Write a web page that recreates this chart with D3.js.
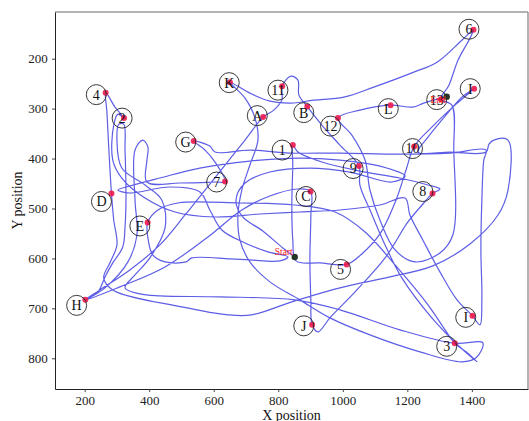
<!DOCTYPE html>
<html><head><meta charset="utf-8">
<script src="https://cdn.jsdelivr.net/npm/d3@7/dist/d3.min.js"></script>
<style>body{margin:0;background:#fff}svg{display:block}svg text{font-family:'Liberation Serif','Times New Roman',serif}</style>
</head><body><div id="chart"></div>
<script>
// Trajectory (X position, Y position) in data units
const pathX = [851,814,752,690,669,697,774,898,1022,1152,1193,1115,991,867,712,557,433,340,303,340,464,557,588,625,697,768,830,805,712,
650,532,514,449,411,396,395,427,489,681,851,976,1069,1162,1264,1317,1347,1382,1416,1369,1276,1183,1131,1087,1053,1050,991,935,890,864,861,839,812,811,786,753,697,635,573,511,433,340,247,202,309,449,582,687,774,861,900,901,898,901,905,923,960,1038,1131,1202,1251,1278,1301,1264,1177,1053,935,861,845,845,842,845,855,929,1012,1059,1115,1165,1196,1221,1276,1351,1407,1369,1317,1264,1233,1332,1444,1453,1468,1512,1512,1481,1394,1279,1146,991,842,718,644,501,287,259,278,300,290,283,275,269,265,294,322,303,290,287,315,387,480,604,743,867,991,1115,1193,1208,1248,1301,1354,1402,1425,1431,1428,1431,1437,1444,1332,1177,991,836,712,604,588,538,573,604,635,604,495,393,393,396,380,356,356,362,334,263,202,
241,263,287,318,325,328,325,321,306,300,315,387,439,449,402,356,325,371,
433,619,851,991,1177,1347,1434,1413,1369,1239,1084,960,867,774,712,681,675,687,712,737,728,697,650,712,774,839,910,1003,1096,1220,1292,1369,1405,1394,1357,1329,1304,1338,1344,1341,1301,1224,1162,1115,1084,1069,1028,985,1053,1148,1217,1251,1322];
const pathY = [597,579,545,517,483,449,427,419,427,447,435,415,403,399,405,419,439,455,463,469,457,467,503,543,569,587,597,605,603,
601,599,607,607,593,559,528,503,489,489,493,507,547,613,693,743,770,787,807,781,719,639,573,507,453,415,373,333,296,273,243,235,255,283,303,317,363,413,463,513,573,623,663,683,657,617,557,503,475,461,466,513,603,683,733,747,719,667,599,527,489,470,461,453,439,425,407,387,373,413,493,563,605,609,612,591,551,483,423,376,337,291,260,277,315,357,387,387,387,371,363,363,463,513,571,615,637,659,687,713,713,697,663,639,609,573,523,470,383,307,268,297,319,311,333,403,439,479,507,517,511,507,503,493,479,513,563,627,683,715,733,683,583,483,403,383,389,391,389,389,383,387,375,365,383,407,446,447,449,447,403,377,363,383,483,553,607,659,683,
667,637,609,577,537,483,383,331,331,363,419,453,483,539,599,633,659,671,
675,677,683,703,743,770,769,799,807,787,753,719,683,647,607,563,513,463,413,363,319,279,247,269,285,289,283,277,257,227,207,163,142,159,203,253,281,293,383,553,589,607,583,523,463,403,353,319,303,293,297,289,276];

// Labelled waypoints
const labels = ["4","2","K","A","G","7","D","6","11","B","12","L","13","I","1","10","9","C","8","E","H","5","J","I","3"];
const pointX = [265,322,650,753,538,635,283,1405,812,890,985,1148,1304,1407,845,1221,1050,900,1278,395,202,1012,905,1402,1347];
const pointY = [268,319,247,317,365,446,470,142,255,296,319,293,281,260,373,376,415,466,470,528,683,612,733,715,770];
const labelX = [236,316,648,735,513,609,252,1391,799,879,962,1141,1291,1395,812,1216,1032,886,1248,371,175,993,879,1381,1322];
const labelY = [272,319,248,314,367,447,486,141,263,308,335,300,282,260,383,380,420,476,466,535,694,622,735,718,776];

const startPt = [851,597];
const endPt = [1322,276];

const xTicks = [200,400,600,800,1000,1200,1400];
const yTicks = [200,300,400,500,600,700,800];
const xDomain = [108,1574];
const yDomain = [106.5,861.5];

const W=529,H=421;
const m={l:55,r:1,t:12,b:32};
const svg=d3.select("#chart").append("svg").attr("width",W).attr("height",H);
const x=d3.scaleLinear().domain(xDomain).range([m.l,W-m.r]);
const y=d3.scaleLinear().domain(yDomain).range([m.t,H-m.b]);
const font="'Liberation Serif','Times New Roman',serif";

// frame (top/right gray)
svg.append("line").attr("x1",m.l).attr("x2",W-m.r).attr("y1",m.t).attr("y2",m.t).attr("stroke","#9a9a9a").attr("stroke-width",1.5);
svg.append("line").attr("x1",W-m.r).attr("x2",W-m.r).attr("y1",m.t).attr("y2",H-m.b).attr("stroke","#9a9a9a").attr("stroke-width",1.5);

const xAxis=svg.append("g").attr("transform",`translate(0,${H-m.b})`)
  .call(d3.axisBottom(x).tickValues(xTicks).tickSize(3).tickSizeOuter(0).tickFormat(d3.format("d")));
const yAxis=svg.append("g").attr("transform",`translate(${m.l},0)`)
  .call(d3.axisLeft(y).tickValues(yTicks).tickSize(3).tickSizeOuter(0).tickFormat(d3.format("d")));
[xAxis,yAxis].forEach(g=>{
  g.attr("font-family",null);
  g.select(".domain").attr("stroke","#222").attr("stroke-width",1);
  g.selectAll(".tick line").attr("stroke","#444");
  g.selectAll("text").style("font-family",font).style("font-size","13px").attr("fill","#222");
});
xAxis.selectAll("text").attr("dy","0.78em");
yAxis.selectAll("text").attr("dx","-0.1em");

svg.append("text").attr("x",(m.l+W-m.r)/2).attr("y",420).attr("text-anchor","middle")
  .style("font-family",font).style("font-size","14px").attr("fill","#111").text("X position");
svg.append("text").attr("transform",`translate(22,${(m.t+H-m.b)/2}) rotate(-90)`).attr("text-anchor","middle")
  .style("font-family",font).style("font-size","14px").attr("fill","#111").text("Y position");

// trajectory
const n=Math.min(pathX.length,pathY.length);
const pts=d3.range(n).map(i=>[pathX[i],pathY[i]]);
const line=d3.line().x(d=>x(d[0])).y(d=>y(d[1])).curve(d3.curveCatmullRom.alpha(0.5));
svg.append("path").datum(pts).attr("d",line).attr("fill","none")
  .attr("stroke","#4b4be3").attr("stroke-width",1.2).attr("stroke-opacity",0.9).attr("stroke-linejoin","round");

// red waypoint dots
svg.append("g").selectAll("circle").data(labels).join("circle")
  .attr("cx",(d,i)=>x(pointX[i])).attr("cy",(d,i)=>y(pointY[i])).attr("r",3)
  .attr("fill","#f0194f").attr("opacity",0.9);

// label circles
const lg=svg.append("g").selectAll("g").data(labels).join("g")
  .attr("transform",(d,i)=>`translate(${x(labelX[i])},${y(labelY[i])})`);
lg.append("circle").attr("r",10).attr("fill","none").attr("stroke","#222").attr("stroke-width",0.9);
lg.append("text").attr("text-anchor","middle").attr("dy","0.35em").style("font-family",font)
  .style("font-size","14px").attr("fill","#111").text(d=>d);

// start / end
svg.append("circle").attr("cx",x(startPt[0])).attr("cy",y(startPt[1])).attr("r",3.2).attr("fill","#263626");
svg.append("text").attr("x",x(startPt[0])-2).attr("y",y(startPt[1])-2).attr("text-anchor","end")
  .style("font-family",font).style("font-size","9.5px").attr("fill","#ff2020").text("Start");
svg.append("circle").attr("cx",x(endPt[0])).attr("cy",y(endPt[1])).attr("r",3.2).attr("fill","#263626");
svg.append("text").attr("x",x(endPt[0])-1).attr("y",y(endPt[1])+6).attr("text-anchor","end")
  .style("font-family",font).style("font-size","9.5px").attr("fill","#ff2020").text("End");
</script></body></html>
